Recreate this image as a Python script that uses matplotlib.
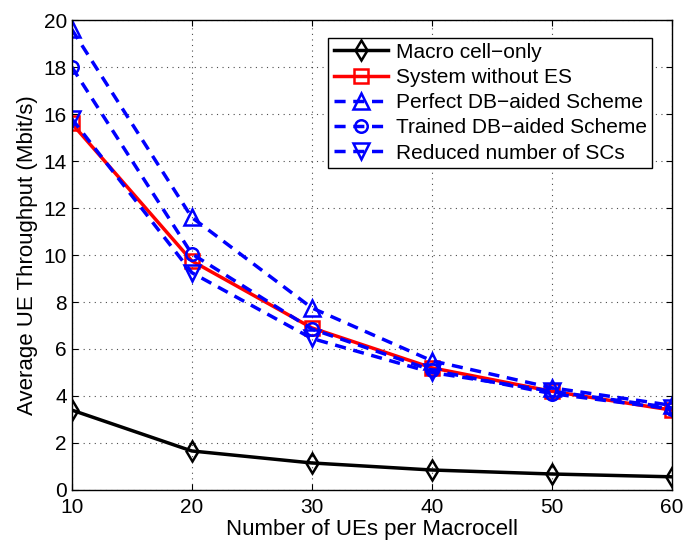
import numpy as np
import matplotlib
matplotlib.use("Agg")
import matplotlib.pyplot as plt

plt.rcParams['font.family'] = ['Liberation Sans', 'DejaVu Sans']

# number of UEs per macrocell
ues = [10, 20, 30, 40, 50, 60]

# average UE throughput (Mbit/s)
macro_only = [3.4, 1.66, 1.15, 0.85, 0.68, 0.56]
without_es = [15.6, 9.75, 6.9, 5.2, 4.2, 3.4]
perfect_db = [19.6, 11.6, 7.75, 5.5, 4.35, 3.6]
trained_db = [18.0, 10.05, 6.85, 5.1, 4.1, 3.45]
reduced_sc = [15.8, 9.25, 6.45, 5.0, 4.2, 3.5]

labels = ['Macro cell\u2212only', 'System without ES',
          'Perfect DB\u2212aided Scheme', 'Trained DB\u2212aided Scheme',
          'Reduced number of SCs']

fig = plt.figure(figsize=(6.84, 5.42), dpi=100)
ax = fig.add_axes([0.105, 0.096, 0.877, 0.867])

dash = (0, (3.2, 2.2))
ax.plot(ues, macro_only, color='k', lw=2.5, marker='d', ms=10,
        mfc='none', mew=1.8, label=labels[0])
ax.plot(ues, without_es, color='r', lw=2.5, marker='s', ms=10,
        mfc='none', mew=1.8, label=labels[1])
ax.plot(ues, perfect_db, color='b', lw=2.5, ls=dash, marker='^', ms=11,
        mfc='none', mew=1.8, label=labels[2])
ax.plot(ues, trained_db, color='b', lw=2.5, ls=dash, marker='o', ms=9,
        mfc='none', mew=1.8, label=labels[3])
ax.plot(ues, reduced_sc, color='b', lw=2.5, ls=dash, marker='v', ms=11,
        mfc='none', mew=1.8, label=labels[4])

ax.set_xlim(10, 60)
ax.set_ylim(0, 20)
ax.set_xticks(np.arange(10, 61, 10))
ax.set_yticks(np.arange(0, 21, 2))
ax.tick_params(labelsize=15, direction='in', length=4, top=True, right=True)
ax.tick_params(axis='x', pad=6)
ax.grid(True, ls=(0, (1, 4)), color='k', lw=0.8, alpha=0.7)
for s in ax.spines.values():
    s.set_linewidth(1.0)

ax.set_xlabel('Number of UEs per Macrocell', fontsize=16, labelpad=1)
ax.set_ylabel('Average UE Throughput (Mbit/s)', fontsize=16, labelpad=4)

leg = ax.legend(loc='upper right', fontsize=15, fancybox=False,
                edgecolor='k', framealpha=1, handlelength=2.6,
                borderpad=0.25, labelspacing=0.3, handletextpad=0.4,
                bbox_to_anchor=(0.985, 0.985))
leg.get_frame().set_linewidth(1.0)

fig.savefig('out.png', dpi=100)
